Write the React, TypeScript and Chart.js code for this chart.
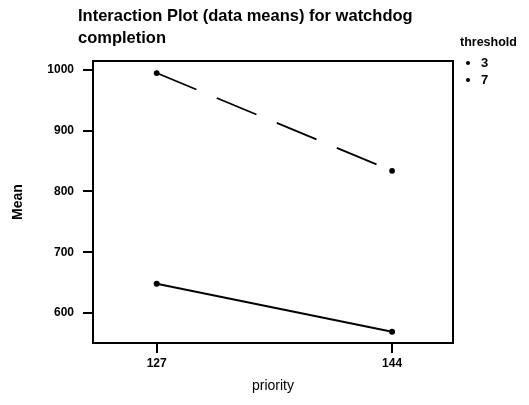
import React, { useEffect, useRef } from 'react';
import { Chart, registerables } from 'chart.js';

Chart.register(...registerables);

const priorities = [127, 144];
const thresholdLabels = ['3', '7'];
const meansThreshold3 = [648, 569];
const meansThreshold7 = [995, 834];
const yTickValues = [600, 700, 800, 900, 1000];
const xTickValues = [127, 144];
const titleLines = ['Interaction Plot (data means) for watchdog', 'completion'];
const legendTitle = 'threshold';
const xTitle = 'priority';
const yTitle = 'Mean';

const FONT = '"Liberation Sans Narrow", "Liberation Sans", Arial, sans-serif';

const decor = {
  id: 'decor',
  afterDraw(chart: any) {
    const { ctx, chartArea: a } = chart;
    ctx.save();
    ctx.strokeStyle = '#000';
    ctx.lineWidth = 2;
    ctx.strokeRect(a.left, a.top, a.right - a.left, a.bottom - a.top);
    ctx.fillStyle = '#000';
    ctx.textBaseline = 'middle';
    ctx.textAlign = 'left';
    ctx.font = `bold 16.5px ${FONT}`;
    titleLines.forEach((t, i) => ctx.fillText(t, 78, 16 + i * 22));
    ctx.font = `bold 12.5px ${FONT}`;
    ctx.fillText(legendTitle, a.right + 7, 43);
    chart.data.datasets.forEach((ds: any, i: number) => {
      const y = 63 + i * 17;
      ctx.beginPath();
      ctx.arc(a.right + 15, y, 2, 0, Math.PI * 2);
      ctx.fill();
      ctx.font = `bold 13px ${FONT}`;
      ctx.fillText(ds.label, a.right + 28, y);
    });
    ctx.restore();
  },
};

export default function App() {
  const ref = useRef<HTMLCanvasElement>(null);
  useEffect(() => {
    document.body.style.margin = '0';
    const tickFont = { family: FONT, size: 12, weight: 'bold' as const };
    const chart = new Chart(ref.current!, {
      type: 'line',
      data: {
        datasets: [
          {
            label: thresholdLabels[0],
            data: priorities.map((p, i) => ({ x: p, y: meansThreshold3[i] })),
            borderColor: '#000',
            backgroundColor: '#000',
            borderWidth: 2,
            pointRadius: 2,
            pointHoverRadius: 2,
          },
          {
            label: thresholdLabels[1],
            data: priorities.map((p, i) => ({ x: p, y: meansThreshold7[i] })),
            borderColor: '#000',
            backgroundColor: '#000',
            borderWidth: 1.8,
            borderDash: [43, 22],
            pointRadius: 2,
            pointHoverRadius: 2,
          },
        ],
      },
      options: {
        responsive: false,
        animation: false,
        layout: { padding: { top: 61, right: 76, bottom: 0, left: 0 } },
        plugins: { legend: { display: false }, tooltip: { enabled: false }, title: { display: false } },
        scales: {
          x: {
            type: 'linear',
            min: 122.4,
            max: 148.4,
            afterBuildTicks: (s: any) => { s.ticks = xTickValues.map((v) => ({ value: v })); },
            afterFit: (s: any) => { s.height = 62; },
            grid: { drawOnChartArea: false, drawTicks: true, tickLength: 10, color: '#000', lineWidth: 2 },
            border: { display: true, color: '#000', width: 2 },
            ticks: { font: tickFont, color: '#000', padding: 3, maxRotation: 0, callback: (v: any) => String(v) },
            title: { display: true, text: xTitle, color: '#000', font: { family: FONT, size: 14 }, padding: { top: 0, bottom: 10 } },
          },
          y: {
            type: 'linear',
            min: 550.6,
            max: 1014.8,
            afterBuildTicks: (s: any) => { s.ticks = yTickValues.map((v) => ({ value: v })); },
            afterFit: (s: any) => { s.width = 93; },
            grid: { drawOnChartArea: false, drawTicks: true, tickLength: 10, color: '#000', lineWidth: 2 },
            border: { display: true, color: '#000', width: 2 },
            ticks: { font: tickFont, color: '#000', padding: 9, callback: (v: any) => String(v) },
            title: { display: true, text: yTitle, color: '#000', font: { family: FONT, size: 14, weight: 'bold' }, padding: { top: 10, bottom: 0 } },
          },
        },
      },
      plugins: [decor],
    });
    return () => chart.destroy();
  }, []);
  return (
    <div style={{ width: 529, height: 405 }}>
      <canvas ref={ref} width={529} height={405} style={{ display: 'block' }} />
    </div>
  );
}
